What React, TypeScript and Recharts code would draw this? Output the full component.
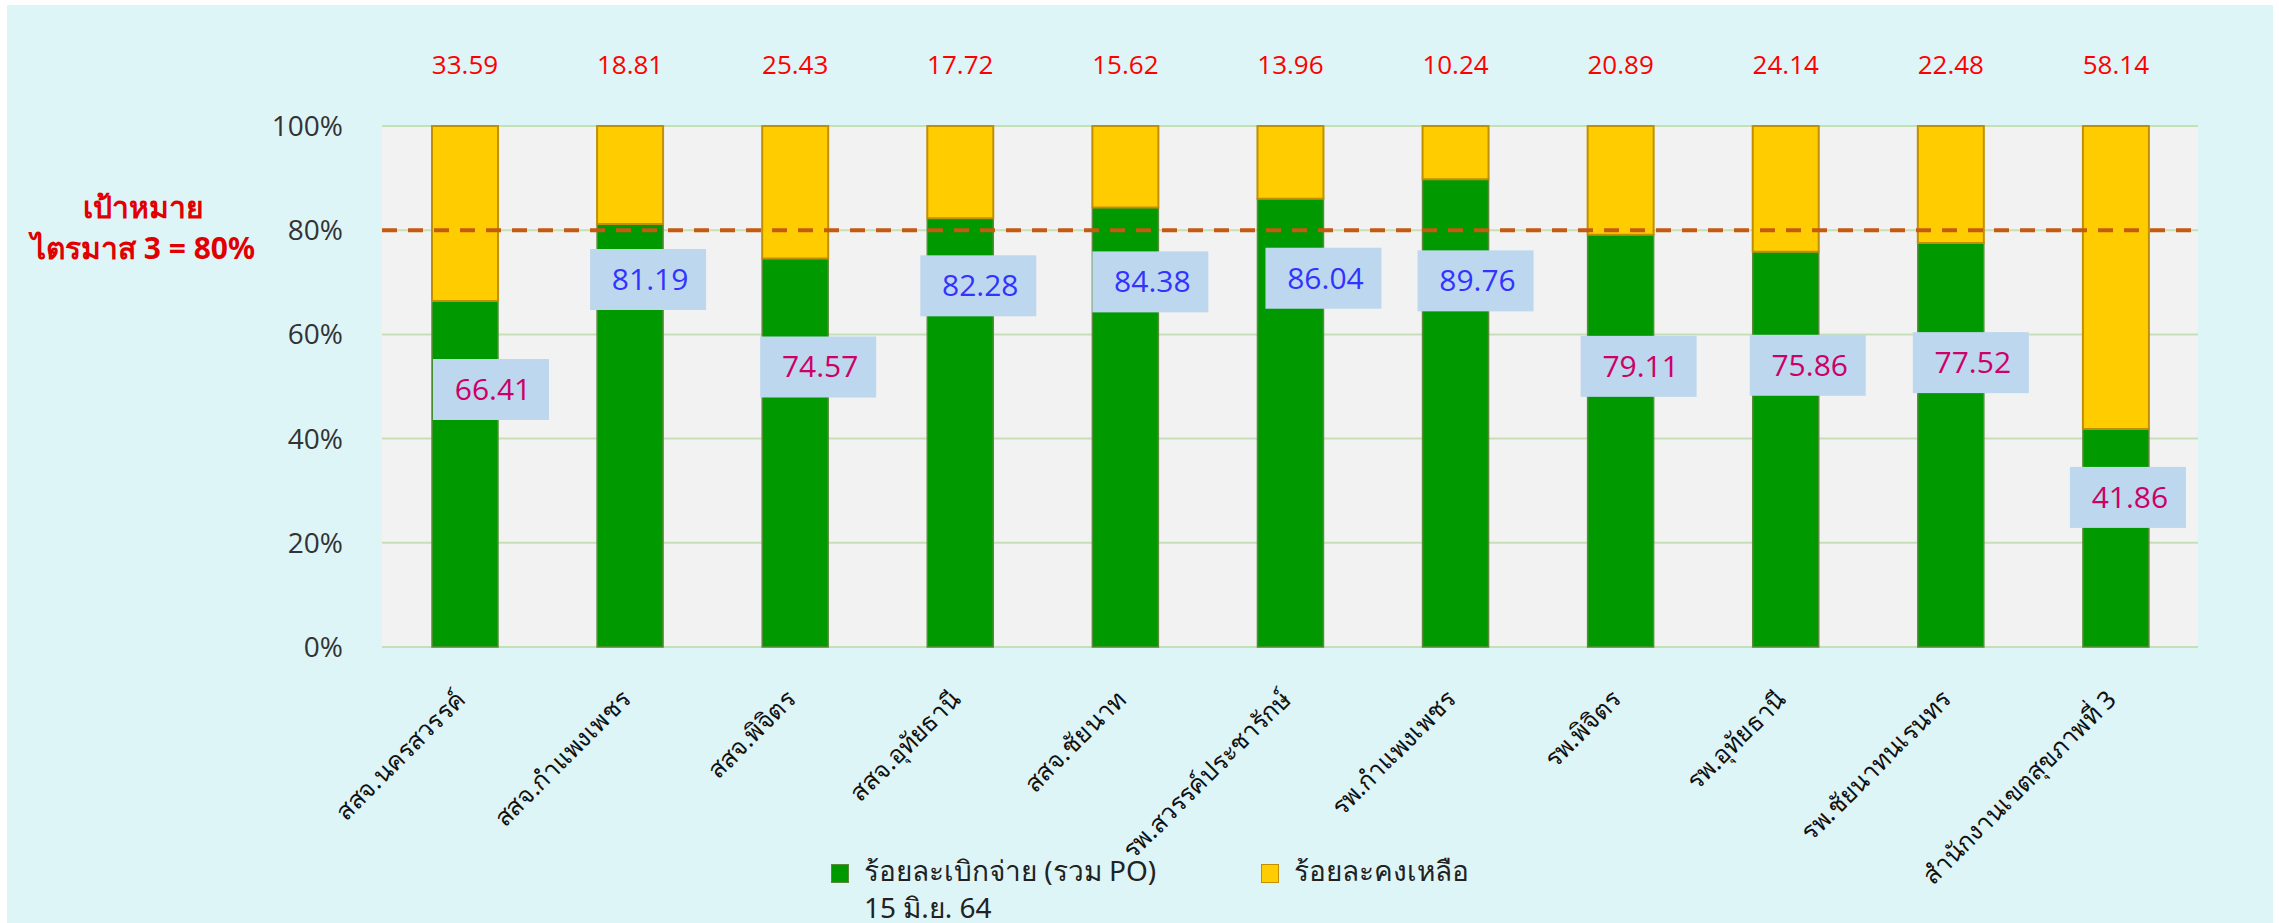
import React from "react"
import {
  Bar,
  BarChart,
  CartesianGrid,
  LabelList,
  Legend,
  ReferenceLine,
  XAxis,
  YAxis,
} from "recharts"

// values (percent)
const categories = [
  "สสจ.นครสวรรค์",
  "สสจ.กำแพงเพชร",
  "สสจ.พิจิตร",
  "สสจ.อุทัยธานี",
  "สสจ.ชัยนาท",
  "รพ.สวรรค์ประชารักษ์",
  "รพ.กำแพงเพชร",
  "รพ.พิจิตร",
  "รพ.อุทัยธานี",
  "รพ.ชัยนาทนเรนทร",
  "สำนักงานเขตสุขภาพที่ 3",
]
const disbursed = [66.41, 81.19, 74.57, 82.28, 84.38, 86.04, 89.76, 79.11, 75.86, 77.52, 41.86]
const remaining = [33.59, 18.81, 25.43, 17.72, 15.62, 13.96, 10.24, 20.89, 24.14, 22.48, 58.14]
const yTicks = [0, 20, 40, 60, 80, 100]
const target = 80

const seriesNames = ["ร้อยละเบิกจ่าย (รวม PO)", "15 มิ.ย. 64", "ร้อยละคงเหลือ"]
const targetNote = ["เป้าหมาย", "ไตรมาส 3 = 80%"]

const data = categories.map((name, i) => ({
  name,
  disbursed: disbursed[i],
  remaining: remaining[i],
}))

// where each value box sits, relative to the top-centre of its green bar
const boxOffsets = [
  [26, 88],
  [18, 55],
  [23, 108],
  [18, 67],
  [25, 74],
  [33, 79],
  [20, 101],
  [18, 131],
  [22, 113],
  [20, 119],
  [12, 68],
]

const GREEN = "#009900"
const YELLOW = "#FFCC00"
const numFont = "'Open Sans', 'DejaVu Sans', sans-serif"
const thaiFont = "Tahoma, 'Noto Sans', 'DejaVu Sans', sans-serif"

const ValueBox = (props: any) => {
  const { x, y, width, value, index } = props
  const [dx, dy] = boxOffsets[index]
  const cx = x + width / 2 + dx
  const cy = y + dy
  const color = value >= target ? "#3333FF" : "#CC0066"
  return (
    <g>
      <rect x={cx - 58} y={cy - 30} width={116} height={61} fill="#BDD7EE" />
      <text
        x={cx + 2}
        y={cy}
        dy="0.36em"
        textAnchor="middle"
        fill={color}
        fontSize={30}
        fontFamily={numFont}
      >
        {value.toFixed(2)}
      </text>
    </g>
  )
}

const TopLabel = (props: any) => {
  const { x, y, width, value } = props
  return (
    <text
      x={x + width / 2}
      y={y - 61}
      dy="0.36em"
      textAnchor="middle"
      fill="#FF0000"
      fontSize={26}
      fontFamily={numFont}
    >
      {value.toFixed(2)}
    </text>
  )
}

const XTick = (props: any) => {
  const { x, y, payload } = props
  return (
    <g transform={`translate(${x - 4},${y + 40})`}>
      <text
        transform="rotate(-45)"
        textAnchor="end"
        dy="0.35em"
        fill="#111"
        fontSize={25}
        fontFamily={thaiFont}
      >
        {payload.value}
      </text>
    </g>
  )
}

const legendText: React.CSSProperties = {
  position: "absolute",
  lineHeight: "30px",
  whiteSpace: "nowrap",
}

const LegendBox = () => (
  <div style={{ position: "relative", height: 70, fontFamily: thaiFont, fontSize: 28, color: "#222" }}>
    <div style={{ position: "absolute", left: 824, top: 11, width: 16, height: 17, background: GREEN, border: "1px solid #5b8a3c" }} />
    <div style={{ ...legendText, left: 857, top: 2 }}>{seriesNames[0]}</div>
    <div style={{ ...legendText, left: 857, top: 39 }}>{seriesNames[1]}</div>
    <div style={{ position: "absolute", left: 1254, top: 11, width: 16, height: 17, background: YELLOW, border: "1px solid #BF9000" }} />
    <div style={{ ...legendText, left: 1287, top: 2 }}>{seriesNames[2]}</div>
  </div>
)

const noteStyle: React.CSSProperties = {
  position: "absolute",
  left: 0,
  width: 272,
  textAlign: "center",
  color: "#E00000",
  fontWeight: "bold",
  fontSize: 30,
  lineHeight: "30px",
  fontFamily: thaiFont,
  whiteSpace: "nowrap",
}

export default function App() {
  return (
    <div
      style={{
        position: "absolute",
        left: 7,
        top: 5,
        width: 2266,
        height: 918,
        background: "#DEF5F7",
      }}
    >
      <div style={{ ...noteStyle, top: 187 }}>{targetNote[0]}</div>
      <div style={{ ...noteStyle, top: 228 }}>{targetNote[1]}</div>
      <BarChart
        width={2266}
        height={918}
        data={data}
        margin={{ top: 121, right: 75, left: 275, bottom: 0 }}
        barSize={66}
      >
        <CartesianGrid vertical={false} stroke="#C5E0B4" strokeWidth={2} fill="#F2F2F2" />
        <XAxis
          dataKey="name"
          interval={0}
          height={206}
          tickLine={false}
          axisLine={false}
          tick={<XTick />}
        />
        <YAxis
          domain={[0, 100]}
          ticks={yTicks}
          width={100}
          tickLine={false}
          axisLine={false}
          tickMargin={33}
          tickFormatter={(v) => `${v}%`}
          tick={{ fill: "#333", fontSize: 28, fontFamily: numFont }}
        />
        <Legend verticalAlign="bottom" wrapperStyle={{ left: 0, width: 2266, bottom: 0 }} content={<LegendBox />} />
        <Bar dataKey="disbursed" stackId="a" fill={GREEN} stroke="#5b8a3c" strokeWidth={1.5} isAnimationActive={false}>
          <LabelList dataKey="disbursed" content={<ValueBox />} />
        </Bar>
        <Bar dataKey="remaining" stackId="a" fill={YELLOW} stroke="#BF9000" strokeWidth={2} isAnimationActive={false}>
          <LabelList dataKey="remaining" content={<TopLabel />} />
        </Bar>
        <ReferenceLine y={target} stroke="#C55A11" strokeWidth={4} strokeDasharray="15 11" />
      </BarChart>
    </div>
  )
}
